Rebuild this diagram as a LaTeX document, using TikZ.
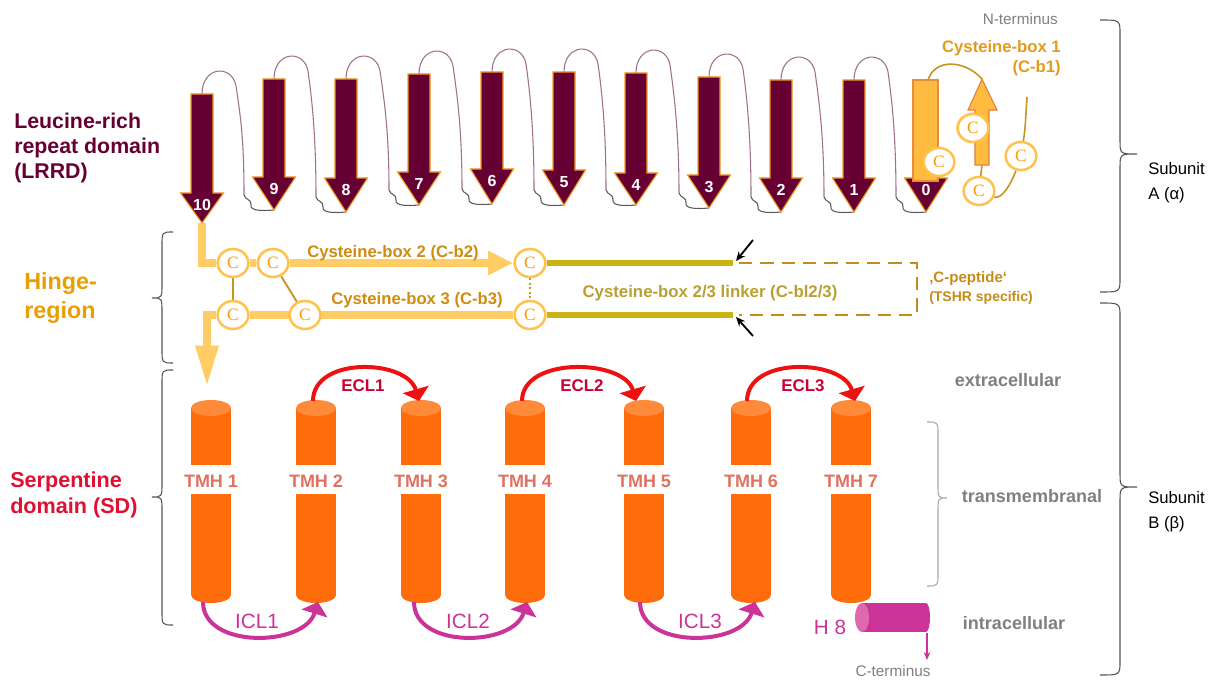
\documentclass[tikz,border=0pt]{standalone}
\usepackage{fontspec}
\setmainfont{Liberation Sans}
\newfontfamily\cysfont{Liberation Serif}
\usetikzlibrary{arrows.meta,shapes.geometric,backgrounds}
\pgfdeclarelayer{paper}
\pgfsetlayers{paper,background,main}

\definecolor{lrr}{HTML}{660033}
\definecolor{lrredge}{HTML}{F39A1E}
\definecolor{loopc}{HTML}{A0708E}
\definecolor{tailc}{HTML}{5A5A5A}
\definecolor{hingey}{HTML}{FFCC66}
\definecolor{hingetxt}{HTML}{D08C0C}
\definecolor{hingelbl}{HTML}{E8A000}
\definecolor{cring}{HTML}{FFC34D}
\definecolor{cletter}{HTML}{FF9900}
\definecolor{olive}{HTML}{CCB314}
\definecolor{cpep}{HTML}{C88B1A}
\definecolor{linkertxt}{HTML}{B9A032}
\definecolor{tmhbody}{HTML}{FF6C0C}
\definecolor{tmhtop}{HTML}{FF8A3A}
\definecolor{tmhtxt}{HTML}{E07262}
\definecolor{eclc}{HTML}{EE1111}
\definecolor{ecltxt}{HTML}{CC0033}
\definecolor{iclc}{HTML}{CC3399}
\definecolor{hlight}{HTML}{DD6AAE}
\definecolor{greytxt}{HTML}{808080}
\definecolor{sdtxt}{HTML}{DD1133}
\definecolor{cbonetxt}{HTML}{E39B1B}
\definecolor{cbline}{HTML}{C8961E}
\definecolor{cbfill}{HTML}{FFBB40}
\definecolor{cbedge}{HTML}{E0803A}
\definecolor{bracec}{HTML}{555555}

% curly brace: style, end x, middle x, tip x, top y, tip y, bottom y
\newcommand\drawbrace[7]{%
  \draw[#1] (#2,#5) .. controls (#3,#5) .. (#3,#5+14) -- (#3,#6-14)
    .. controls (#3,#6) .. (#4,#6) .. controls (#3,#6) .. (#3,#6+14)
    -- (#3,#7-14) .. controls (#3,#7) .. (#2,#7);}

\tikzset{
  strand/.style={fill=lrr, draw=lrredge, line width=0.8pt, line join=miter},
  strandlbl/.style={text=white, font=\bfseries\fontsize{12}{14}\selectfont, inner sep=0pt},
  looppath/.style={draw=loopc, line width=0.8pt},
  tailpath/.style={draw=tailc, line width=0.8pt},
  cys/.style={ellipse, draw=cring, line width=1.9pt, fill=white, minimum width=23pt,
    minimum height=21pt, inner sep=0pt, text=cletter, font=\cysfont\fontsize{13}{13}\selectfont},
  hingeline/.style={draw=hingey, line width=6pt, line join=miter},
  bondline/.style={draw=cbline, line width=1.4pt},
  oliveline/.style={draw=olive, line width=4.5pt},
  cpepline/.style={draw=cpep, line width=2.2pt, dash pattern=on 10pt off 6pt},
  hingelabel/.style={text=hingetxt, font=\bfseries\fontsize{12.5}{15}\selectfont},
  tmhlbl/.style={text=tmhtxt, font=\bfseries\fontsize{13.5}{16}\selectfont},
  ecl/.style={draw=eclc, line width=3pt, -{Triangle[length=9pt,width=20pt]}},
  ecllbl/.style={text=ecltxt, font=\bfseries\fontsize{12.7}{15}\selectfont},
  icl/.style={draw=iclc, line width=3pt, -{Triangle[length=9pt,width=20pt]}},
  icllbl/.style={text=iclc, font=\fontsize{15.5}{18}\selectfont},
  sidelbl/.style={text=greytxt, font=\bfseries\fontsize{13.5}{16}\selectfont},
  termlbl/.style={text=greytxt, font=\fontsize{11.5}{14}\selectfont},
  domainlbl/.style={anchor=west, align=left, inner sep=0pt},
  subunitlbl/.style={anchor=west, align=left, inner sep=0pt, font=\fontsize{12.5}{18.5}\selectfont},
}

\begin{document}
\begin{tikzpicture}[x=0.75pt,y=-0.75pt]
\useasboundingbox (0,0) rectangle (1220,680);
\begin{pgfonlayer}{paper}
  \fill[white] (0,0) rectangle (1220,680);
\end{pgfonlayer}

% ---------- domain names ----------
\node[domainlbl, text=lrr, font=\bfseries\fontsize{16}{19}\selectfont] (lrrd) at (14,148)
  {Leucine-rich\\repeat domain\\(LRRD)};
\node[domainlbl, text=hingelbl, font=\bfseries\fontsize{17.5}{21.8}\selectfont] (hinge) at (24,298)
  {Hinge-\\region};
\node[domainlbl, text=sdtxt, font=\bfseries\fontsize{16.2}{19.5}\selectfont] (sd) at (10,495)
  {Serpentine\\domain (SD)};

% ---------- braces ----------
\drawbrace{bracec, line width=0.8pt}{173}{162}{152}{232}{298}{363}
\drawbrace{bracec, line width=0.8pt}{173}{162}{152}{370}{497}{625}
\drawbrace{bracec, line width=0.8pt}{1100}{1120}{1137}{20}{154}{292}
\drawbrace{bracec, line width=0.8pt}{1100}{1120}{1137}{303}{487}{675}
\drawbrace{draw=black!35, line width=0.8pt}{927}{938}{947}{422}{498}{586}

\node[subunitlbl] (suba) at (1148,183) {Subunit\\A (α)};
\node[subunitlbl] (subb) at (1148,512) {Subunit\\B (β)};

% ---------- leucine-rich repeats: connecting loops ----------
\foreach \a/\t/\b/\p in {202/94/274/210, 274/79/346/212, 346/79/419/205, 419/74/492/204,
  492/72/564/205, 564/72/636/205, 636/73/709/208, 709/77/781/212, 781/80/854/212, 854/80/926/212}
{
  \draw[looppath] (\a,\t) .. controls (\a,\t-28) and (\a+30,\t-30) .. (\a+34,\t-8)
    .. controls (\a+38,\t+20) and (\b-30,\p-75) .. (\b-30,\p-15);
  \draw[tailpath] (\b-30,\p-15) .. controls (\b-29,\p-10) and (\b-22,\p-11) .. (\b-23,\p-5)
    .. controls (\b-24,\p+1) and (\b-12,\p+1) .. (\b,\p);
}

% ---------- leucine-rich repeats: strands ----------
\foreach \nm/\cx/\tp/\hb/\tip/\lb in {s10/202/94/193/223/10, s9/274/79/177/210/9,
  s8/346/79/178/212/8, s7/419/74/172/205/7, s6/492/72/169/204/6, s5/564/72/170/205/5,
  s4/636/73/173/205/4, s3/709/77/175/208/3, s2/781/80/178/212/2, s1/854/80/178/212/1,
  s0/926/80/178/212/0}
{
  \draw[strand] (\cx-11,\tp) -- (\cx+11,\tp) -- (\cx+11,\hb) -- (\cx+21.5,\hb) -- (\cx,\tip)
    -- (\cx-21.5,\hb) -- (\cx-11,\hb) -- cycle;
  \coordinate (\nm top) at (\cx,\tp);
  \coordinate (\nm tip) at (\cx,\tip);
  \node[strandlbl] (\nm lbl) at (\cx,\hb+12) {\lb};
}
% strand 0 shaft belongs to cysteine-box 1
\draw[fill=cbfill, draw=cbedge!80!cbfill, line width=0.8pt] (913,80) rectangle (938,181);

% ---------- cysteine-box 1 ----------
\coordinate (cbstart) at (928,80);
\coordinate (uptip) at (982,79);
\coordinate (upbase) at (982,165);
\coordinate (cbend) at (1027,97);
\draw[cbline, line width=1.2pt] (cbstart) .. controls (935,58) and (965,60) .. (uptip);
\node[cys] (cba) at (973,128) {C};
\node[cys] (cbb) at (939,162) {C};
\node[cys] (cbc) at (979,191) {C};
\node[cys] (cbd) at (1021,156) {C};
\begin{pgfonlayer}{background}
  \draw[cbline, line width=1.2pt] (upbase) -- (cbc);
  \draw[cbline, line width=1.2pt] (cbc) .. controls (1002,200) and (1012,182) .. (cbd)
    .. controls (1025,130) .. (cbend);
\end{pgfonlayer}
\draw[fill=cbfill, draw=cbedge, line width=0.8pt, line join=miter]
  (975,165) -- (975,110) -- (968,110) -- (uptip) -- (997,110) -- (989,110) -- (989,165) -- cycle;
\node[cys] at (cba) {C};

\node[anchor=east, align=right, inner sep=0pt, text=cbonetxt,
  font=\bfseries\fontsize{12.5}{15}\selectfont] (cbonelbl) at (1061,58) {Cysteine-box 1\\(C-b1)};
\node[termlbl, anchor=east, inner sep=0pt] (nterm) at (1058,19) {N-terminus};

% ---------- hinge region ----------
\node[cys] (c1) at (233,263) {C};
\node[cys] (c2) at (273,263) {C};
\node[cys] (c3) at (530,263) {C};
\node[cys] (c4) at (233,315) {C};
\node[cys] (c5) at (305,315) {C};
\node[cys] (c6) at (530,315) {C};
\coordinate (sdentry) at (207,387);
\coordinate (lk1) at (733,263);
\coordinate (lk2) at (733,315);

\begin{pgfonlayer}{background}
  \draw[hingeline] (s10tip) |- (c1.west);
  \draw[hingeline] (c1) -- (c2);
  \draw[hingeline, -{Triangle[length=19pt,width=17pt]}] (c2.east) -- (c3.west);
  \draw[hingeline] (c6.west) -- (c4);
  \draw[hingeline, -{Triangle[length=31pt,width=16pt]}] (c4.west) -| (sdentry);
  \draw[bondline] (c1) -- (c4);
  \draw[bondline] (c2) -- (c5);
  \draw[bondline, dotted] (c3) -- (c6);
  \draw[oliveline] (c3) -- (lk1);
  \draw[oliveline] (c6) -- (lk2);
\end{pgfonlayer}

\coordinate (dp1) at (739,263);
\coordinate (dp2) at (917,263);
\coordinate (dp3) at (917,315);
\coordinate (dp4) at (739,315);
\draw[cpepline] (dp1) -- (dp2) -- (dp3) -- (dp4);

\coordinate (ba1) at (753,240);
\coordinate (ba1e) at (736,261);
\coordinate (ba2) at (753,336);
\coordinate (ba2e) at (736,317);
\draw[line width=1.4pt, -{Stealth[length=7pt,width=6pt]}] (ba1) -- (ba1e);
\draw[line width=1.4pt, -{Stealth[length=7pt,width=6pt]}] (ba2) -- (ba2e);

\node[hingelabel] (cbtwo) at (393,253) {Cysteine-box 2 (C-b2)};
\node[hingelabel] (cbthree) at (417,300) {Cysteine-box 3 (C-b3)};
\node[text=linkertxt, font=\bfseries\fontsize{12.6}{15}\selectfont] (linker) at (710,293)
  {Cysteine-box 2/3 linker (C-bl2/3)};
\node[anchor=west, inner sep=0pt, text=cpep, font=\bfseries\fontsize{11.3}{13}\selectfont]
  (cpep1) at (929,279) {‚C-peptide‘};
\node[anchor=west, inner sep=0pt, text=cpep, font=\bfseries\fontsize{10.5}{12}\selectfont]
  (cpep2) at (929,298) {(TSHR specific)};

% ---------- serpentine domain: transmembrane helices ----------
\foreach \nm/\cx/\lb in {t1/211/1, t2/316/2, t3/421/3, t4/525/4, t5/644/5, t6/751/6, t7/851/7}
{
  \fill[tmhbody] (\cx-20,408) rectangle (\cx+20,465);
  \fill[tmhbody] (\cx-20,494) rectangle (\cx+20,595);
  \fill[tmhbody] (\cx,595) ellipse [x radius=20, y radius=8];
  \fill[tmhtop] (\cx,408) ellipse [x radius=20, y radius=8];
  \node[tmhlbl] (\nm lbl) at (\cx,481) {TMH \lb};
}

% extracellular loops
\coordinate (e1a) at (313,401); \coordinate (e1b) at (419,401);
\coordinate (e2a) at (522,401); \coordinate (e2b) at (636,401);
\coordinate (e3a) at (747,401); \coordinate (e3b) at (855,401);
\draw[ecl] (e1a) .. controls +(0,-45) and +(-12,-42) .. (e1b);
\draw[ecl] (e2a) .. controls +(0,-45) and +(-12,-42) .. (e2b);
\draw[ecl] (e3a) .. controls +(0,-45) and +(-12,-42) .. (e3b);
\node[ecllbl] (ecl1) at (363,386) {ECL1};
\node[ecllbl] (ecl2) at (582,386) {ECL2};
\node[ecllbl] (ecl3) at (803,386) {ECL3};

% intracellular loops
\coordinate (i1a) at (203,602); \coordinate (i1b) at (318,602);
\coordinate (i2a) at (414,602); \coordinate (i2b) at (527,602);
\coordinate (i3a) at (640,602); \coordinate (i3b) at (755,602);
\draw[icl] (i1a) .. controls +(0,47) and +(-14,45) .. (i1b);
\draw[icl] (i2a) .. controls +(0,47) and +(-14,45) .. (i2b);
\draw[icl] (i3a) .. controls +(0,47) and +(-14,45) .. (i3b);
\node[icllbl] (icl1) at (257,621) {ICL1};
\node[icllbl] (icl2) at (468,621) {ICL2};
\node[icllbl] (icl3) at (700,621) {ICL3};

% helix 8 and C-terminus
\fill[iclc] (862,603) rectangle (926,632);
\fill[iclc] (926,617.5) ellipse [x radius=4, y radius=14.5];
\fill[hlight] (862,617.5) ellipse [x radius=7, y radius=14.5];
\node[icllbl] (height) at (830,627) {H 8};
\coordinate (hend) at (927,633);
\coordinate (cterm) at (927,660);
\draw[iclc, line width=1.3pt, -{Stealth[length=6pt,width=5pt]}] (hend) -- (cterm);
\node[termlbl, inner sep=0pt] (ctermlbl) at (893,671) {C-terminus};

% compartment labels
\node[sidelbl] (extra) at (1008,380) {extracellular};
\node[sidelbl] (trans) at (1032,496) {transmembranal};
\node[sidelbl] (intra) at (1014,623) {intracellular};

\end{tikzpicture}
\end{document}
